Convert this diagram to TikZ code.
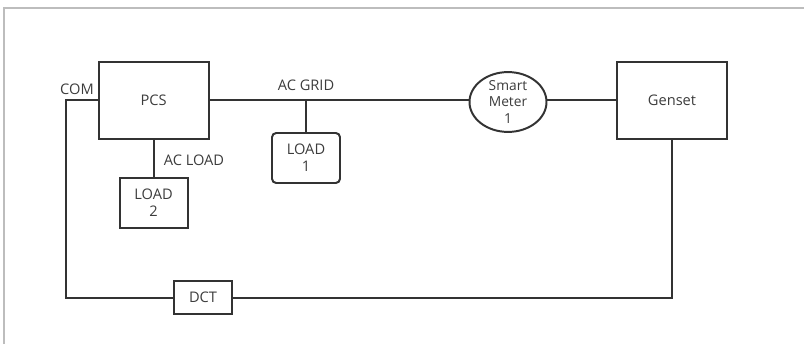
\documentclass[tikz,border=0pt]{standalone}
\usepackage{fontspec}
\setmainfont{Open Sans}
\usetikzlibrary{shapes.geometric}
\definecolor{wire}{HTML}{333333}
\definecolor{ink}{HTML}{3C3C3C}
\definecolor{frame}{HTML}{BDBDBD}
\begin{document}
\begin{tikzpicture}[
  unit/.style={draw=wire, line width=1.4pt, text=ink, align=center, inner sep=0pt, font=\fontsize{10.4}{12}\selectfont},
  bigbox/.style={unit, minimum width=2.75cm, minimum height=1.925cm},
  loadbox/.style={unit, minimum width=1.7cm, minimum height=1.25cm},
  tag/.style={text=ink, inner sep=0pt, font=\fontsize{10.4}{12}\selectfont},
  wireline/.style={draw=wire, line width=1.4pt}
]
\useasboundingbox (0,0) rectangle (20.1,-8.6);
\draw[frame, line width=1.4pt] (0.1,-8.6) -- (0.1,-0.2) -- (20.1,-0.2);
\node[bigbox] (pcs) at (3.84,-2.51) {PCS};
\node[bigbox] (genset) at (16.8,-2.51) {Genset};
\node[unit, ellipse, minimum width=1.925cm, minimum height=1.375cm, font=\fontsize{9.8}{11.5}\selectfont] (meter) at (12.7,-2.55) {Smart\\Meter\\1};
\node[loadbox, rounded corners=3pt] (loadone) at (7.65,-3.95) {LOAD\\1};
\node[loadbox] (loadtwo) at (3.84,-5.075) {LOAD\\2};
\node[unit, minimum width=1.45cm, minimum height=0.825cm] (dct) at (5.075,-7.44) {DCT};
\node[tag] (com) at (1.925,-2.225) {COM};
\node[tag] (acgrid) at (7.65,-2.125) {AC GRID};
\node[tag] (acload) at (4.85,-4.0) {AC LOAD};
\coordinate (comcorner) at (1.65,-7.44);
\draw[wireline] (pcs.east) -- (meter.west |- pcs.east);
\draw[wireline] (meter.east |- genset.west) -- (genset.west);
\draw[wireline] (loadone.north) -- (loadone.north |- pcs.east);
\draw[wireline] (pcs.south) -- (loadtwo.north);
\draw[wireline] (pcs.west) -| (comcorner) -- (dct.west);
\draw[wireline] (dct.east) -| (genset.south);
\end{tikzpicture}
\end{document}
